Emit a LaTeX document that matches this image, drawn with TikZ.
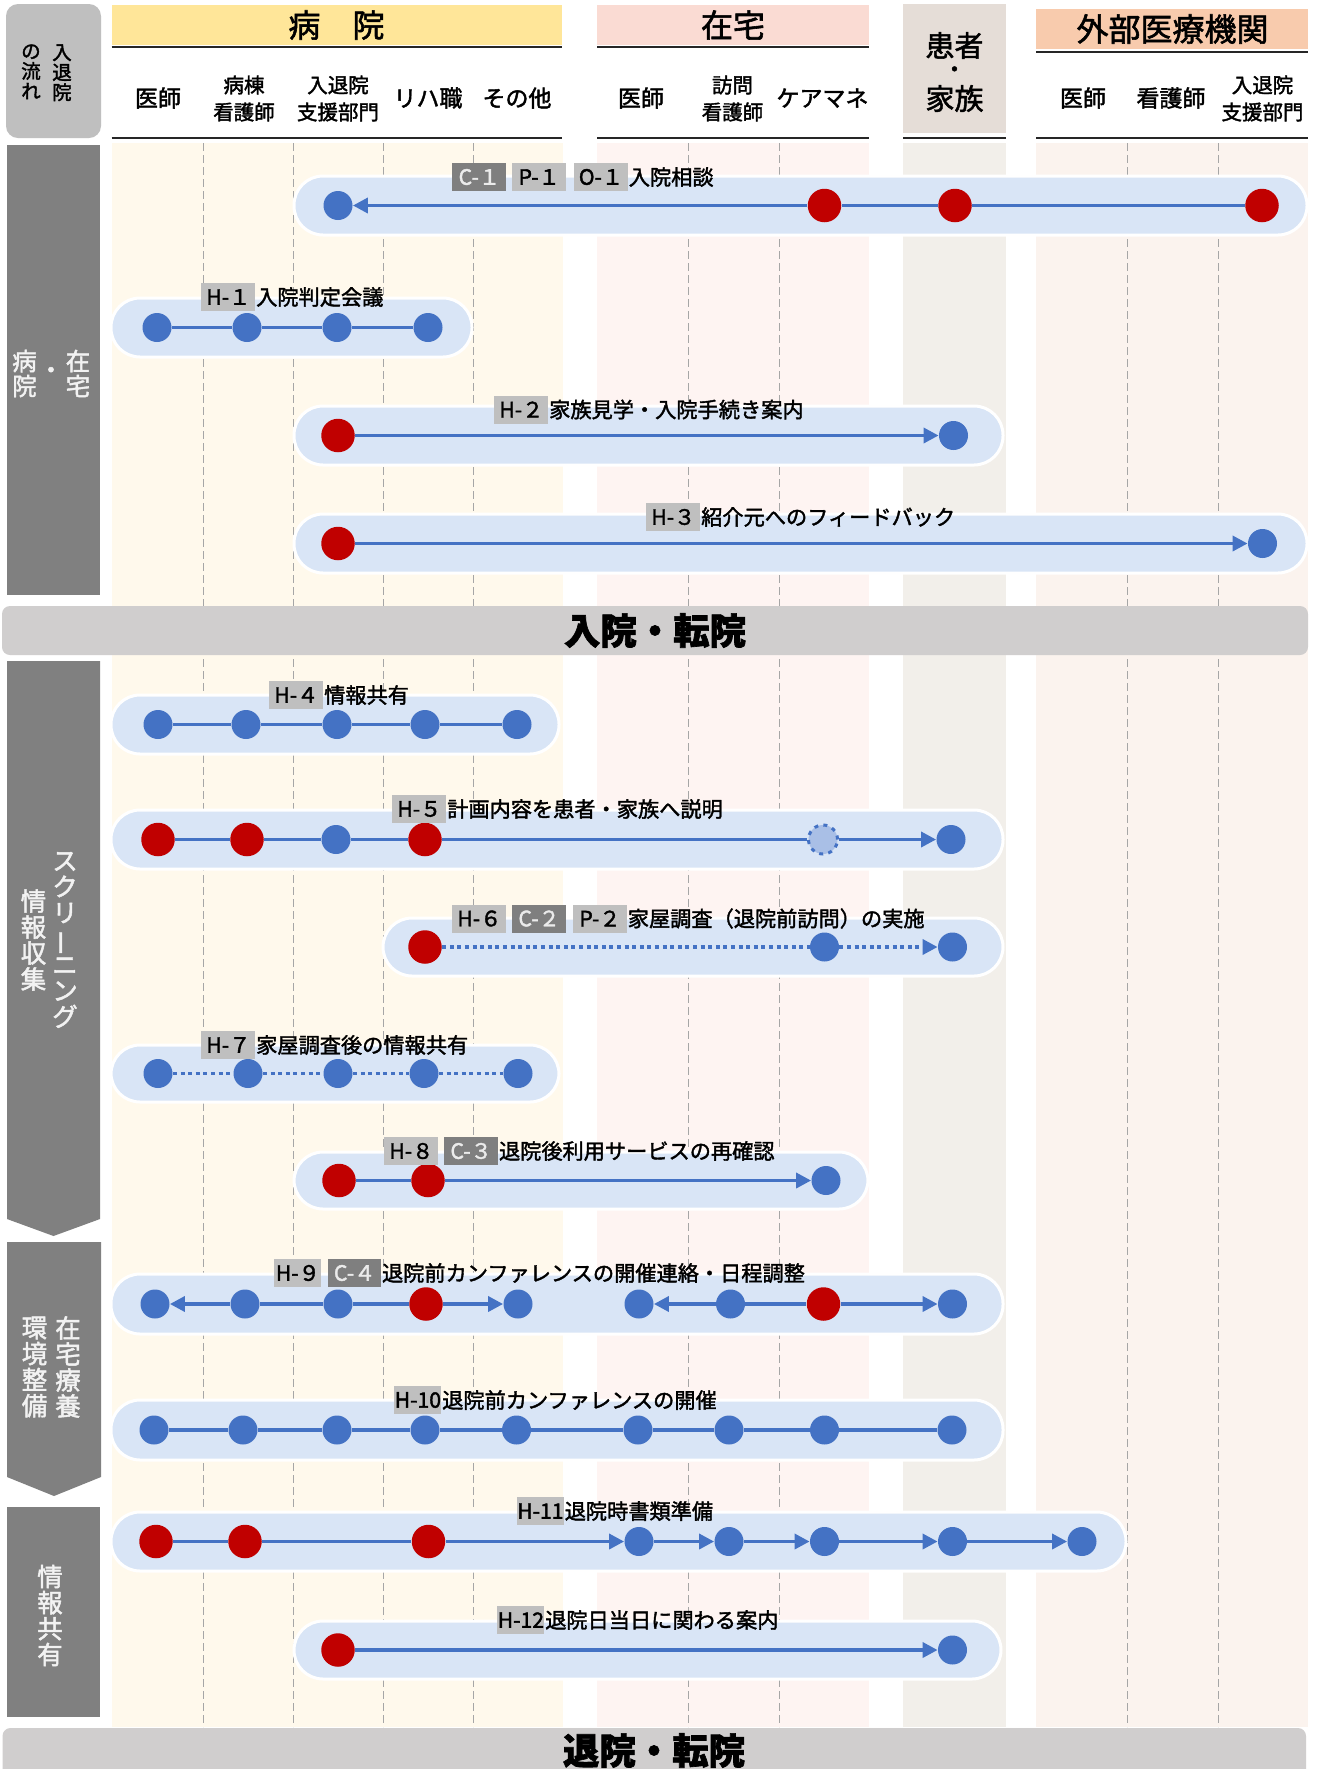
\documentclass[tikz,border=0pt]{standalone}
\usepackage{fontspec}
\setmainfont{Noto Sans CJK JP}[FakeBold=1.8]
\usepackage{graphicx}
\usetikzlibrary{arrows.meta,shapes,positioning}

\definecolor{hospbg}{HTML}{FFF9EC}
\definecolor{homebg}{HTML}{FEF4F2}
\definecolor{patbg}{HTML}{F2EFEA}
\definecolor{extbg}{HTML}{FBF3EE}
\definecolor{hosphead}{HTML}{FFE699}
\definecolor{homehead}{HTML}{FADBD3}
\definecolor{pathead}{HTML}{E5DDD7}
\definecolor{exthead}{HTML}{F8CBAD}
\definecolor{lanefill}{HTML}{D9E5F6}
\definecolor{dotblue}{HTML}{4472C4}
\definecolor{dotred}{HTML}{C00000}
\definecolor{dotpale}{HTML}{A9BFE6}
\definecolor{tagdark}{HTML}{7F7F7F}
\definecolor{taglight}{HTML}{BFBFBF}
\definecolor{stagegray}{HTML}{808080}
\definecolor{bargray}{HTML}{D0CECE}
\definecolor{gridgray}{HTML}{A6A6A6}

\begin{document}
\begin{tikzpicture}[x=0.5pt,y=-0.5pt,>={Triangle[length=7.5pt,width=7.5pt]},
	bdot/.style={circle,fill=dotblue,minimum size=14.5pt,inner sep=0pt},
	rdot/.style={circle,fill=dotred,minimum size=16.75pt,inner sep=0pt},
	gdot/.style={circle,fill=dotpale,draw=dotblue,line width=1.5pt,dash pattern=on 2pt off 2.6pt,minimum size=14.5pt,inner sep=0pt},
	link/.style={draw=dotblue,line width=1.75pt},
	dlink/.style={link,dash pattern=on 2pt off 1.8pt},
	lane/.style={fill=lanefill,draw=white,line width=1.5pt,rounded corners=14.5pt},
	tag/.style={fill=taglight,minimum width=27pt,minimum height=14pt,inner sep=0pt,anchor=west,font=\fontsize{10.6}{12}\selectfont},
	ctag/.style={tag,fill=tagdark,text=white!92!black},
	task/.style={inner sep=0pt,anchor=west,font=\fontsize{10.6}{12}\selectfont},
	role/.style={align=center,inner sep=0pt,font=\fontsize{11.5}{13}\selectfont},
	role2/.style={align=center,inner sep=0pt,font=\fontsize{10.25}{13.5}\selectfont},
	head/.style={inner sep=0pt,font=\fontsize{16}{18}\selectfont},
	grid/.style={draw=gridgray,line width=0.5pt,dash pattern=on 4pt off 2pt},
	rule/.style={draw=black!85,line width=1.2pt},
	vtext/.style={align=center,inner sep=0pt,text=white!95!black,font=\fontsize{12.75}{13}\selectfont}]

\useasboundingbox (0,0) rectangle (1323,1769);
\fill[white] (0,0) rectangle (1323,1769);

% column backgrounds
\fill[hospbg] (112,143) rectangle (563,1727);
\fill[homebg] (597,143) rectangle (869,1727);
\fill[patbg] (903,143) rectangle (1006,1727);
\fill[extbg] (1036,143) rectangle (1308,1727);

\draw[grid] (203,143) -- (203,1727);
\draw[grid] (293,143) -- (293,1727);
\draw[grid] (383,143) -- (383,1727);
\draw[grid] (473,143) -- (473,1727);
\draw[grid] (688,143) -- (688,1727);
\draw[grid] (779,143) -- (779,1727);
\draw[grid] (1127,143) -- (1127,1727);
\draw[grid] (1218,143) -- (1218,1727);

% header
\fill[taglight,rounded corners=6pt] (6,4) rectangle (101,138);
\node[align=center,inner sep=0pt,anchor=north,font=\fontsize{9.75}{10}\selectfont] (flow1) at (62,44) {入\\退\\院};
\node[align=center,inner sep=0pt,anchor=north,font=\fontsize{9.75}{10}\selectfont] (flow2) at (31,44) {の\\流\\れ};

\fill[hosphead] (111.5,5) rectangle (562,45);
\fill[homehead] (597,5) rectangle (869,45);
\fill[pathead] (903,4) rectangle (1006,133);
\fill[exthead] (1036,9) rectangle (1308,49);
\node[head] (hosp) at (336.5,25) {病　院};
\node[head] (home) at (733,25) {在宅};
\node[head] (ext) at (1172.5,29) {外部医療機関};
\node[inner sep=0pt,font=\fontsize{14.5}{16}\selectfont] (pat1) at (954.5,45.5) {患者};
\node[inner sep=0pt,font=\fontsize{11.5}{12}\selectfont] (pat2) at (954.5,72) {・};
\node[inner sep=0pt,font=\fontsize{14.5}{16}\selectfont] (pat3) at (954.5,98.5) {家族};

\draw[rule] (111.5,47) -- (562,47);
\draw[rule] (597,47) -- (869,47);
\draw[rule] (1036,52) -- (1308,52);
\draw[rule] (111.5,137.7) -- (562,137.7);
\draw[rule] (597,137.7) -- (869,137.7);
\draw[rule] (903,137.7) -- (1006,137.7);
\draw[rule] (1036,137.7) -- (1308,137.7);

\node[role] (hdoc) at (158,98) {医師};
\node[role2] (hnurse) at (244,98.5) {病棟\\看護師};
\node[role2] (hdesk) at (338,98.5) {入退院\\支援部門};
\node[role] (hrehab) at (428,98) {リハ職};
\node[role] (hother) at (517,98) {その他};
\node[role] (zdoc) at (641,98) {医師};
\node[role2] (znurse) at (732.5,98.5) {訪問\\看護師};
\node[role] (zcare) at (822.5,98) {ケアマネ};
\node[role] (edoc) at (1083,98) {医師};
\node[role] (enurse) at (1171,98) {看護師};
\node[role2] (edesk) at (1262.5,98.5) {入退院\\支援部門};

% stages
\fill[stagegray] (7,145) rectangle (100,595);
\fill[stagegray] (7,661) -- (100,661) -- (100,1219) -- (53.5,1236) -- (7,1219) -- cycle;
\fill[stagegray] (7,1242) -- (101,1242) -- (101,1477) -- (54,1496) -- (7,1477) -- cycle;
\fill[stagegray] (7,1507) rectangle (100,1716.5);
\node[vtext,font=\fontsize{12.25}{12.5}\selectfont] (st1a) at (24.5,373.5) {病\\院};
\node[vtext,font=\fontsize{12.25}{12.5}\selectfont] (st1b) at (51,373) {・};
\node[vtext,font=\fontsize{12.25}{12.5}\selectfont] (st1c) at (78,373.5) {在\\宅};
\node[vtext] (st2a) at (65,940) {ス\\ク\\リ\\\rotatebox[origin=c]{90}{ー}\\ニ\\ン\\グ};
\node[vtext] (st2b) at (33.5,940) {情\\報\\収\\集};
\node[vtext] (st3a) at (68,1367) {在\\宅\\療\\養};
\node[vtext] (st3b) at (34.5,1367) {環\\境\\整\\備};
\node[vtext] (st4) at (50,1615.5) {情\\報\\共\\有};

% milestones
\node[fill=bargray,rounded corners=4pt,minimum width=653pt,minimum height=24.5pt,inner sep=0pt,font=\bfseries\fontsize{18.2}{20}\selectfont] (admit) at (655,630.5) {入院・転院};
\fill[bargray] (2.5,1769) [rounded corners=4pt] -- (2.5,1728) -- (1306,1728) [sharp corners] -- (1306,1769) -- cycle;
\node[inner sep=0pt,font=\bfseries\fontsize{18.2}{20}\selectfont] (leave) at (654,1750.5) {退院・転院};

% C-1
\draw[lane] (294,176) rectangle (1307,235);
\node[bdot] (c1a) at (338,205.5) {};
\node[rdot] (c1b) at (824.5,205.5) {};
\node[rdot] (c1c) at (955,205.5) {};
\node[rdot] (c1d) at (1262,205.5) {};
\draw[link] (c1d) -- (c1c);
\draw[link] (c1c) -- (c1b);
\draw[link,->] (c1b) -- (c1a);
\node[ctag] (c1tag) at (452,177) {C-１};
\node[tag,right=2.5pt of c1tag] (p1tag) {P-１};
\node[tag,right=3.5pt of p1tag] (o1tag) {O-１};
\node[task,right=0pt of o1tag] (c1task) {入院相談};

% H-1
\draw[lane] (111,298) rectangle (472,357);
\node[bdot] (h1a) at (157,327.5) {};
\node[bdot] (h1b) at (247,327.5) {};
\node[bdot] (h1c) at (337,327.5) {};
\node[bdot] (h1d) at (428,327.5) {};
\draw[link] (h1a) -- (h1b);
\draw[link] (h1b) -- (h1c);
\draw[link] (h1c) -- (h1d);
\node[tag] (h1tag) at (201,297) {H-１};
\node[task,right=0pt of h1tag] (h1task) {入院判定会議};

% H-2
\draw[lane] (294,406) rectangle (1003,465);
\node[rdot] (h2a) at (338,435.5) {};
\node[bdot] (h2b) at (953.5,435.5) {};
\draw[link,->] (h2a) -- (h2b);
\node[tag] (h2tag) at (494,409.5) {H-２};
\node[task,right=0pt of h2tag] (h2task) {家族見学・入院手続き案内};

% H-3
\draw[lane] (294,514) rectangle (1307,573);
\node[rdot] (h3a) at (338,543.5) {};
\node[bdot] (h3b) at (1262.5,543.5) {};
\draw[link,->] (h3a) -- (h3b);
\node[tag] (h3tag) at (646,517) {H-３};
\node[task,right=0pt of h3tag] (h3task) {紹介元へのフィードバック};

% H-4
\draw[lane] (111,695) rectangle (559,754);
\node[bdot] (h4a) at (158,724.5) {};
\node[bdot] (h4b) at (246,724.5) {};
\node[bdot] (h4c) at (337,724.5) {};
\node[bdot] (h4d) at (425,724.5) {};
\node[bdot] (h4e) at (517,724.5) {};
\draw[link] (h4a) -- (h4b);
\draw[link] (h4b) -- (h4c);
\draw[link] (h4c) -- (h4d);
\draw[link] (h4d) -- (h4e);
\node[tag] (h4tag) at (269,695) {H-４};
\node[task,right=0pt of h4tag] (h4task) {情報共有};

% H-5
\draw[lane] (111,810) rectangle (1003,869);
\node[rdot] (h5a) at (158,839.5) {};
\node[rdot] (h5b) at (247,839.5) {};
\node[bdot] (h5c) at (336,839.5) {};
\node[rdot] (h5d) at (425,839.5) {};
\node[gdot] (h5e) at (823,839.5) {};
\node[bdot] (h5f) at (951,839.5) {};
\draw[link] (h5a) -- (h5b);
\draw[link] (h5b) -- (h5c);
\draw[link] (h5c) -- (h5d);
\draw[link] (h5d) -- (h5e);
\draw[link,->] (h5e) -- (h5f);
\node[tag] (h5tag) at (392,809) {H-５};
\node[task,right=0pt of h5tag] (h5task) {計画内容を患者・家族へ説明};

% H-6
\draw[lane] (383,918) rectangle (1003,976);
\node[rdot] (h6a) at (425,947) {};
\node[bdot] (h6b) at (824.5,947) {};
\node[bdot] (h6c) at (952.5,947) {};
\draw[dlink] (h6a) -- (h6b);
\draw[dlink,->] (h6b) -- (h6c);
\node[tag] (h6tag) at (452,918.5) {H-６};
\node[ctag,right=2.5pt of h6tag] (c2tag) {C-２};
\node[tag,right=3pt of c2tag] (p2tag) {P-２};
\node[task,right=0pt of p2tag] (h6task) {家屋調査（退院前訪問）の実施};

% H-7
\draw[lane] (111,1045) rectangle (559,1102);
\node[bdot] (h7a) at (158,1073.5) {};
\node[bdot] (h7b) at (248,1073.5) {};
\node[bdot] (h7c) at (338,1073.5) {};
\node[bdot] (h7d) at (424,1073.5) {};
\node[bdot] (h7e) at (518,1073.5) {};
\draw[dlink] (h7a) -- (h7b);
\draw[dlink] (h7b) -- (h7c);
\draw[dlink] (h7c) -- (h7d);
\draw[dlink] (h7d) -- (h7e);
\node[tag] (h7tag) at (201,1045) {H-７};
\node[task,right=0pt of h7tag] (h7task) {家屋調査後の情報共有};

% H-8
\draw[lane] (294,1152) rectangle (868,1209);
\node[rdot] (h8a) at (339,1180.5) {};
\node[rdot] (h8b) at (428,1180.5) {};
\node[bdot] (h8c) at (826,1180.5) {};
\draw[link] (h8a) -- (h8b);
\draw[link,->] (h8b) -- (h8c);
\node[tag] (h8tag) at (384,1151) {H-８};
\node[ctag,right=2.5pt of h8tag] (c3tag) {C-３};
\node[task,right=0pt of c3tag] (h8task) {退院後利用サービスの再確認};

% H-9
\draw[lane] (111,1274) rectangle (1003,1334);
\node[bdot] (h9a) at (155,1304) {};
\node[bdot] (h9b) at (245,1304) {};
\node[bdot] (h9c) at (338,1304) {};
\node[rdot] (h9d) at (426,1304) {};
\node[bdot] (h9e) at (518,1304) {};
\node[bdot] (h9f) at (639,1304) {};
\node[bdot] (h9g) at (730.5,1304) {};
\node[rdot] (h9h) at (823.5,1304) {};
\node[bdot] (h9i) at (952.5,1304) {};
\draw[link,->] (h9b) -- (h9a);
\draw[link] (h9b) -- (h9c);
\draw[link] (h9c) -- (h9d);
\draw[link,->] (h9d) -- (h9e);
\draw[link,->] (h9g) -- (h9f);
\draw[link] (h9g) -- (h9h);
\draw[link,->] (h9h) -- (h9i);
\node[tag,minimum width=23.5pt] (h9tag) at (274,1273) {H-９};
\node[ctag,minimum width=26.5pt,right=3pt of h9tag] (c4tag) {C-４};
\node[task,right=0pt of c4tag] (h9task) {退院前カンファレンスの開催連絡・日程調整};

% H-10
\draw[lane] (111,1400) rectangle (1003,1460);
\node[bdot] (h10a) at (154,1430) {};
\node[bdot] (h10b) at (243,1430) {};
\node[bdot] (h10c) at (337,1430) {};
\node[bdot] (h10d) at (425,1430) {};
\node[bdot] (h10e) at (516.5,1430) {};
\node[bdot] (h10f) at (638,1430) {};
\node[bdot] (h10g) at (729,1430) {};
\node[bdot] (h10h) at (824.5,1430) {};
\node[bdot] (h10i) at (952,1430) {};
\draw[link] (h10a) -- (h10b);
\draw[link] (h10b) -- (h10c);
\draw[link] (h10c) -- (h10d);
\draw[link] (h10d) -- (h10e);
\draw[link] (h10e) -- (h10f);
\draw[link] (h10f) -- (h10g);
\draw[link] (h10g) -- (h10h);
\draw[link] (h10h) -- (h10i);
\node[tag,minimum width=23.5pt] (h10tag) at (394,1400) {H-10};
\node[task,right=0pt of h10tag] (h10task) {退院前カンファレンスの開催};

% H-11
\draw[lane] (111,1512) rectangle (1126,1571);
\node[rdot] (h11a) at (156,1541.5) {};
\node[rdot] (h11b) at (245,1541.5) {};
\node[rdot] (h11c) at (428.5,1541.5) {};
\node[bdot] (h11d) at (639,1541.5) {};
\node[bdot] (h11e) at (729,1541.5) {};
\node[bdot] (h11f) at (824.5,1541.5) {};
\node[bdot] (h11g) at (952.5,1541.5) {};
\node[bdot] (h11h) at (1082,1541.5) {};
\draw[link] (h11a) -- (h11b);
\draw[link] (h11b) -- (h11c);
\draw[link,->] (h11c) -- (h11d);
\draw[link,->] (h11d) -- (h11e);
\draw[link,->] (h11e) -- (h11f);
\draw[link,->] (h11f) -- (h11g);
\draw[link,->] (h11g) -- (h11h);
\node[tag,minimum width=23.5pt] (h11tag) at (516.5,1511) {H-11};
\node[task,right=0pt of h11tag] (h11task) {退院時書類準備};

% H-12
\draw[lane] (294,1621) rectangle (1001,1679);
\node[rdot] (h12a) at (338,1650) {};
\node[bdot] (h12b) at (952.5,1650) {};
\draw[link,->] (h12a) -- (h12b);
\node[tag,minimum width=23.5pt] (h12tag) at (497,1620) {H-12};
\node[task,right=0pt of h12tag] (h12task) {退院日当日に関わる案内};

\end{tikzpicture}
\end{document}
